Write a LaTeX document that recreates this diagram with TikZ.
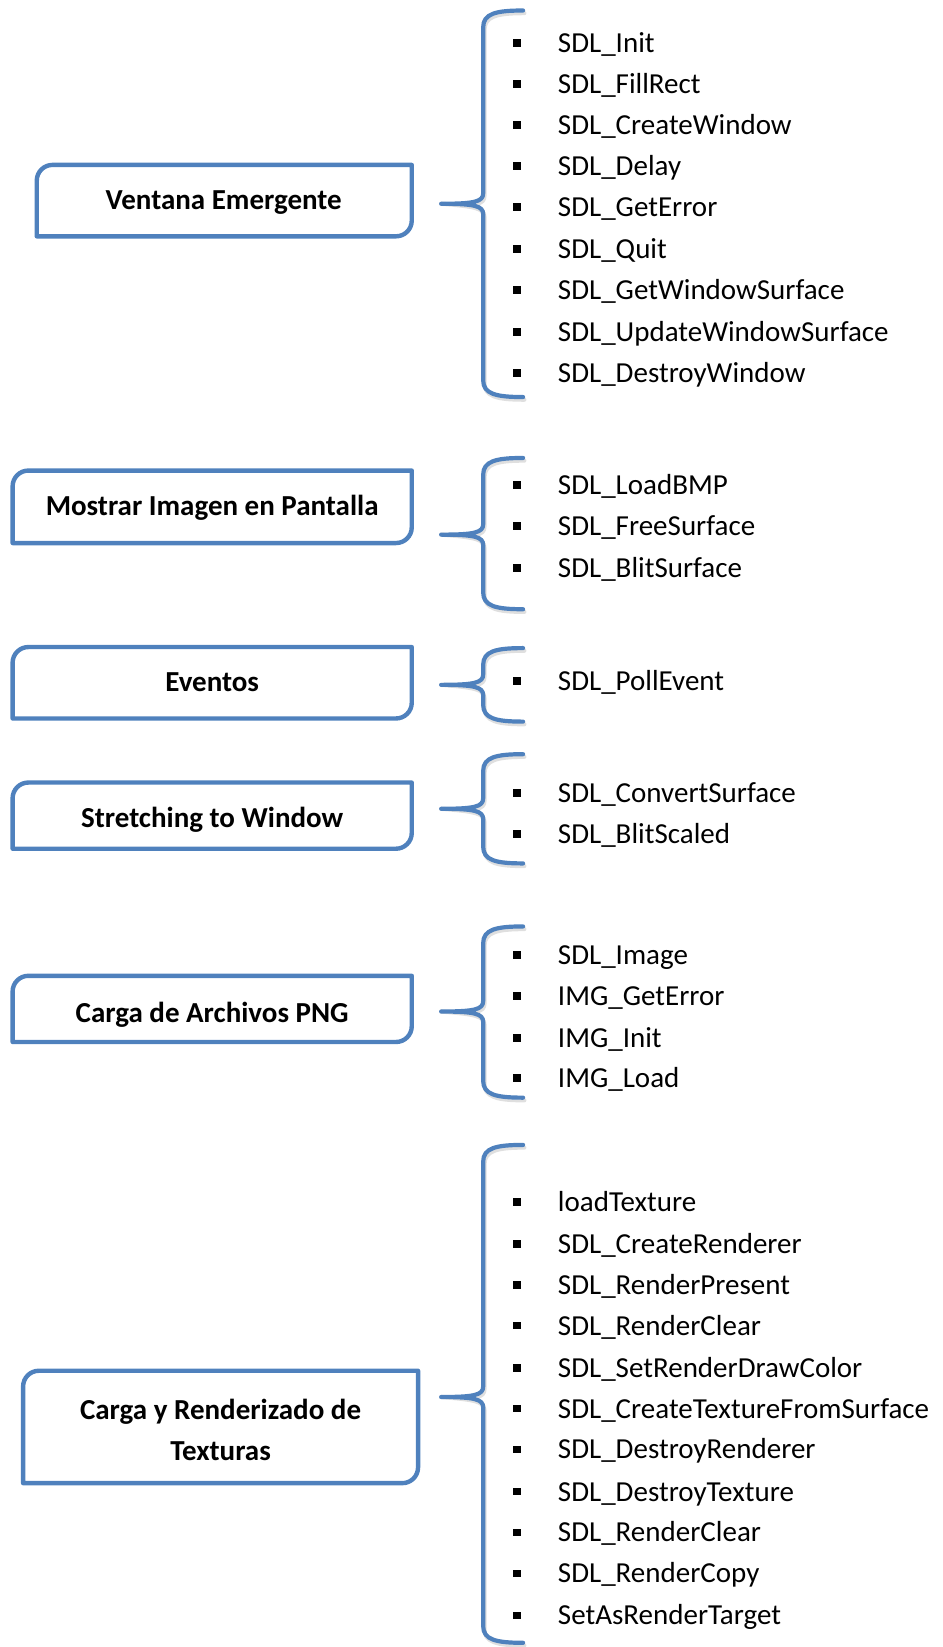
\documentclass[tikz,border=0pt]{standalone}
\usepackage{fontspec}
\setmainfont{Carlito}
\definecolor{sdlblue}{HTML}{4F81BD}
\newcommand\sdlbox[6]{%
  \draw[boxline] (#2,#5) -- (#2,#3+15) .. controls (#2,#3+6.7) and (#2+6.7,#3) .. (#2+15,#3) -- (#4,#3) -- (#4,#5-15) .. controls (#4,#5-6.7) and (#4-6.7,#5) .. (#4-15,#5) -- cycle;
  \node[boxtext] (#1) at ({(#2+#4)/2},{(#3+#5)/2}) {};
}
\newcommand\sdlbracepath[4]{%
  (498,#2) .. controls (472,#2) and (460,#2+3) .. (460,#2+16) -- (460,#4-10) .. controls (460,#4-2) and (452,#4) .. (#1)
  .. controls (452,#4) and (460,#4+2) .. (460,#4+10) -- (460,#3-16) .. controls (460,#3-3) and (472,#3) .. (498,#3)
}
\newcommand\sdlbrace[4]{%
  \coordinate (#1) at (420,#4);
  \draw[braceshadow] \sdlbracepath{#1}{#2}{#3}{#4};
  \draw[braceline] \sdlbracepath{#1}{#2}{#3}{#4};
}
\newcommand\sdlitem[3]{%
  \fill (488.3,#2-3.7) rectangle (495.7,#2+3.7);
  \node[itemtext] (#1) at (531,#2+9) {#3};
}
\begin{document}
\begin{tikzpicture}[x=1.0502pt,y=-1.0502pt,
  boxline/.style={draw=sdlblue,line width=4.4pt,line join=round},
  braceline/.style={draw=sdlblue,line width=4.2pt,line cap=round,line join=round},
  braceshadow/.style={draw=black!25,line width=4.2pt,line cap=round,line join=round,opacity=0.5,shift={(1.2,2.5)}},
  boxtext/.style={inner sep=0pt,minimum size=0pt},
  labeltext/.style={anchor=base,inner sep=0pt,font=\fontsize{29}{35}\selectfont\bfseries},
  itemtext/.style={anchor=base west,inner sep=0pt,font=\fontsize{29}{35}\selectfont}]
\useasboundingbox (0,0) rectangle (897,1568);

% Section 1
\sdlbox{b1}{35}{157}{392}{225}{}
\node[labeltext] (l1) at (213,199) {Ventana Emergente};
\sdlbrace{t1}{10}{378}{194}
\sdlitem{i11}{41}{SDL\_Init}
\sdlitem{i12}{80}{SDL\_FillRect}
\sdlitem{i13}{119}{SDL\_CreateWindow}
\sdlitem{i14}{158}{SDL\_Delay}
\sdlitem{i15}{197}{SDL\_GetError}
\sdlitem{i16}{237}{SDL\_Quit}
\sdlitem{i17}{276}{SDL\_GetWindowSurface}
\sdlitem{i18}{316}{SDL\_UpdateWindowSurface}
\sdlitem{i19}{355}{SDL\_DestroyWindow}

% Section 2
\sdlbox{b2}{12}{448}{392}{517}{}
\node[labeltext] (l2) at (202,491) {Mostrar Imagen en Pantalla};
\sdlbrace{t2}{436}{580}{509}
\sdlitem{i21}{462}{SDL\_LoadBMP}
\sdlitem{i22}{501}{SDL\_FreeSurface}
\sdlitem{i23}{541}{SDL\_BlitSurface}

% Section 3
\sdlbox{b3}{12}{616}{392}{684}{}
\node[labeltext] (l3) at (202,658) {Eventos};
\sdlbrace{t3}{617}{687}{652}
\sdlitem{i31}{648}{SDL\_PollEvent}

% Section 4
\sdlbox{b4}{12}{745}{392}{808}{}
\node[labeltext] (l4) at (202,788) {Stretching to Window};
\sdlbrace{t4}{718}{822}{770}
\sdlitem{i41}{755}{SDL\_ConvertSurface}
\sdlitem{i42}{794}{SDL\_BlitScaled}

% Section 5
\sdlbox{b5}{12}{929}{392}{992}{}
\node[labeltext] (l5) at (202,973) {Carga de Archivos PNG};
\sdlbrace{t5}{882}{1045}{963}
\sdlitem{i51}{909}{SDL\_Image}
\sdlitem{i52}{948}{IMG\_GetError}
\sdlitem{i53}{988}{IMG\_Init}
\sdlitem{i54}{1026}{IMG\_Load}

% Section 6
\sdlbox{b6}{22}{1305}{398}{1412}{}
\node[labeltext] (l6a) at (210,1351) {Carga y Renderizado de};
\node[labeltext] (l6b) at (210,1390) {Texturas};
\sdlbrace{t6}{1090}{1564}{1330}
\sdlitem{i61}{1144}{loadTexture}
\sdlitem{i62}{1184}{SDL\_CreateRenderer}
\sdlitem{i63}{1223}{SDL\_RenderPresent}
\sdlitem{i64}{1262}{SDL\_RenderClear}
\sdlitem{i65}{1302}{SDL\_SetRenderDrawColor}
\sdlitem{i66}{1341}{SDL\_CreateTextureFromSurface}
\sdlitem{i67}{1380}{SDL\_DestroyRenderer}
\sdlitem{i68}{1420}{SDL\_DestroyTexture}
\sdlitem{i69}{1459}{SDL\_RenderClear}
\sdlitem{i610}{1498}{SDL\_RenderCopy}
\sdlitem{i611}{1538}{SetAsRenderTarget}
\end{tikzpicture}
\end{document}
